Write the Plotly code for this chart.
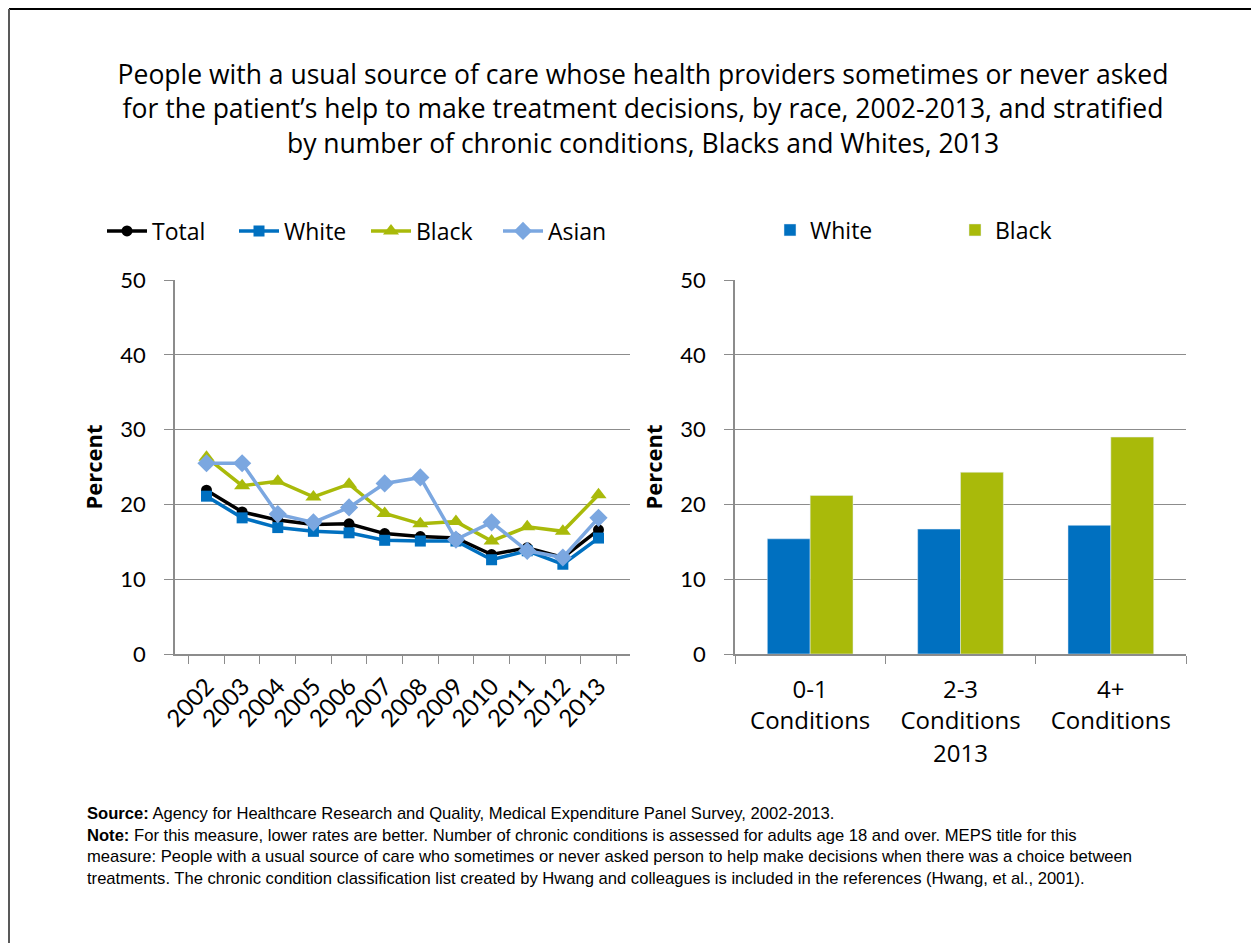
import plotly.graph_objects as go

W, H = 1259, 943
# the page body adds an 8px margin, so positions are shifted back by that much
OX, OY = 8, 8
font_family = 'Lato'
title_family = 'Open Sans'

years = ['2002', '2003', '2004', '2005', '2006', '2007', '2008', '2009', '2010', '2011', '2012', '2013']
total = [21.9, 19.0, 17.9, 17.3, 17.4, 16.1, 15.7, 15.5, 13.3, 14.2, 12.9, 16.6]
white = [21.1, 18.2, 16.9, 16.4, 16.2, 15.2, 15.1, 15.1, 12.6, 13.8, 12.0, 15.5]
black = [26.3, 22.5, 23.1, 21.0, 22.7, 18.8, 17.4, 17.7, 15.1, 17.0, 16.4, 21.3]
asian = [25.5, 25.5, 18.7, 17.6, 19.6, 22.8, 23.6, 15.3, 17.6, 13.8, 12.9, 18.2]

conditions = ['0-1<br>Conditions', '2-3<br>Conditions', '4+<br>Conditions']
white_2013 = [15.4, 16.7, 17.2]
black_2013 = [21.2, 24.3, 29.0]

c_total = '#000000'
c_white = '#0070c0'
c_black = '#a9ba0a'
c_asian = '#7ba7e0'
grid_c = '#8c8c8c'


def px_x(x):
    return (x - OX) / W


def px_y(y):
    return 1 - (y - OY) / H


fig = go.Figure()

# left: trend lines
for name, vals, col, sym, size in [
    ('Total', total, c_total, 'circle', 11),
    ('White', white, c_white, 'square', 11),
    ('Black', black, c_black, 'triangle-up', 14),
    ('Asian', asian, c_asian, 'diamond', 14),
]:
    fig.add_trace(go.Scatter(
        x=years, y=vals, name=name, mode='lines+markers',
        line=dict(color=col, width=3.5),
        marker=dict(symbol=sym, size=size, color=col),
        xaxis='x', yaxis='y', legend='legend',
    ))

# right: bars
fig.add_trace(go.Bar(x=conditions, y=white_2013, name='White', marker_color=c_white,
                     xaxis='x2', yaxis='y2', legend='legend2'))
fig.add_trace(go.Bar(x=conditions, y=black_2013, name='Black', marker_color=c_black,
                     xaxis='x2', yaxis='y2', legend='legend2'))

yaxis_common = dict(
    range=[0, 50], dtick=10, showgrid=True, gridcolor=grid_c, gridwidth=1,
    showline=True, linecolor=grid_c, linewidth=1.5,
    ticks='outside', ticklen=9, tickcolor=grid_c, ticklabelstandoff=14,
    tickfont=dict(size=22, color='black', family=font_family),
    title=dict(text='<b>Percent</b>', font=dict(size=22, color='black', family=title_family), standoff=12),
    zeroline=False, fixedrange=True, automargin=False,
)

fig.update_layout(
    width=W, height=H,
    margin=dict(l=0, r=0, t=0, b=0, pad=0, autoexpand=False),
    paper_bgcolor='white', plot_bgcolor='white',
    font=dict(family=font_family, color='black'),
    barmode='group', bargap=0.43, bargroupgap=0,
    showlegend=True,
    title=dict(
        text='People with a usual source of care whose health providers sometimes or never asked<br>'
             'for the patient\u2019s help to make treatment decisions, by race, 2002-2013, and stratified<br>'
             'by number of chronic conditions, Blacks and Whites, 2013',
        font=dict(size=26.5, color='black', family=title_family),
        x=px_x(643), xanchor='center', xref='paper',
        y=px_y(84), yanchor='top', yref='paper',
    ),
    xaxis=dict(
        domain=[px_x(175), px_x(630)], anchor='y',
        showline=True, linecolor=grid_c, linewidth=1.5,
        ticks='outside', ticklen=8, tickcolor=grid_c, tickson='boundaries',
        tickangle=-47, ticklabelstandoff=7,
        tickfont=dict(size=24, color='black', family=font_family),
        showgrid=False, fixedrange=True, automargin=False,
    ),
    yaxis=dict(domain=[px_y(654), px_y(280)], anchor='x', **yaxis_common),
    xaxis2=dict(
        domain=[px_x(735), px_x(1186)], anchor='y2',
        showline=True, linecolor=grid_c, linewidth=1.5,
        ticks='outside', ticklen=8, tickcolor=grid_c, tickson='boundaries',
        tickangle=0, ticklabelstandoff=13,
        tickfont=dict(size=24, color='black', family=title_family),
        title=dict(text='2013', font=dict(size=24, color='black', family=title_family), standoff=0),
        showgrid=False, fixedrange=True, automargin=False,
    ),
    yaxis2=dict(domain=[px_y(654), px_y(280)], anchor='x2', **yaxis_common),
    legend=dict(
        orientation='h', x=px_x(102), xanchor='left', y=px_y(231), yanchor='middle',
        font=dict(size=23, color='black', family=title_family),
        entrywidth=77, itemwidth=40, bgcolor='rgba(0,0,0,0)',
    ),
    legend2=dict(
        orientation='h', x=px_x(770), xanchor='left', y=px_y(230), yanchor='middle',
        font=dict(size=23, color='black', family=title_family),
        entrywidth=140, itemwidth=30, bgcolor='rgba(0,0,0,0)',
    ),
)

note = ('<b>Source:</b> Agency for Healthcare Research and Quality, Medical Expenditure Panel Survey, 2002-2013.<br>'
        '<b>Note:</b> For this measure, lower rates are better. Number of chronic conditions is assessed for adults age 18 and over. MEPS title for this<br>'
        'measure: People with a usual source of care who sometimes or never asked person to help make decisions when there was a choice between<br>'
        'treatments. The chronic condition classification list created by Hwang and colleagues is included in the references (Hwang, et al., 2001).')

fig.add_annotation(
    text=note, xref='paper', yref='paper', x=px_x(85), y=px_y(802),
    xanchor='left', yanchor='top', align='left', showarrow=False,
    font=dict(size=16.6, color='black', family='Liberation Sans'),
)

# outer frame
fig.add_shape(type='line', xref='paper', yref='paper', x0=px_x(9), x1=px_x(1259), y0=px_y(9), y1=px_y(9),
              line=dict(color='black', width=2))
fig.add_shape(type='line', xref='paper', yref='paper', x0=px_x(9), x1=px_x(9), y0=0, y1=px_y(9),
              line=dict(color='#595959', width=2))
fig.add_shape(type='line', xref='paper', yref='paper', x0=px_x(1258), x1=px_x(1258), y0=0, y1=px_y(9),
              line=dict(color='#595959', width=2))

fig.write_html('out.html')
